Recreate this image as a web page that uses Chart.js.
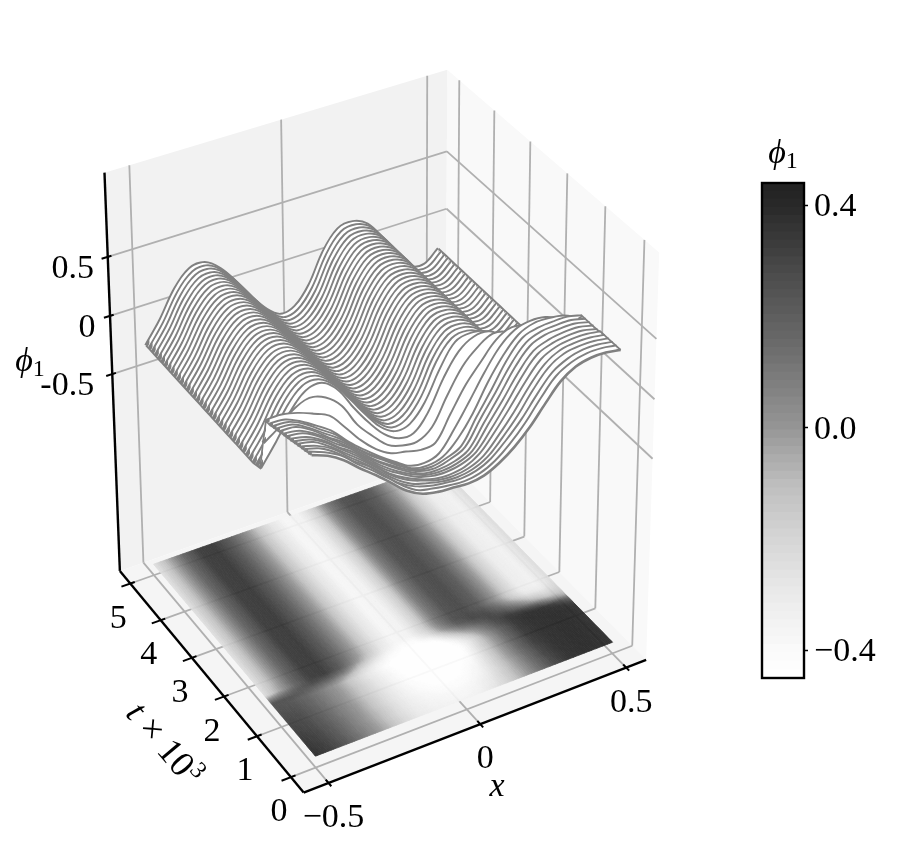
<!DOCTYPE html>
<html><head><meta charset="utf-8">
<style>html,body{margin:0;padding:0;background:#fff;width:900px;height:861px;overflow:hidden}
canvas{position:absolute;display:block}</style>
<script src="https://cdn.jsdelivr.net/npm/chart.js@4"></script></head>
<body><canvas id="main" width="900" height="861" style="left:0;top:0"></canvas>
<canvas id="bar" width="160" height="580" style="left:740px;top:130px"></canvas>
<script>
// ---------- data ----------
const xValues=[-.5,-.45,-.4,-.35,-.3,-.25,-.2,-.15,-.1,-.05,0,.05,.1,.15,.2,.25,.3,.35,.4,.45,.5];
const tValues=[0,.1,.2,.3,.4,.5,.6,.7,.8,.9,1,1.1,1.2,1.3,1.4,1.5,1.6,1.7,1.8,1.9,2,2.1,2.2,2.3,2.4,2.5,2.6,2.7,2.8,2.9,3,3.1,3.2,3.3,3.4,3.5,3.6,3.7,3.8,3.9,4,4.1,4.2,4.3,4.4,4.5,4.6,4.7,4.8,4.9,5];
const phiEarlyRows=[
[.37,.32,.24,.13,.03,-.08,-.19,-.26,-.29,-.30,-.31,-.29,-.23,-.14,-.02,.13,.27,.35,.38,.38,.36],
[.36,.31,.24,.13,.03,-.08,-.19,-.27,-.30,-.32,-.33,-.31,-.25,-.15,-.02,.14,.28,.35,.38,.38,.36],
[.35,.31,.23,.12,.03,-.09,-.20,-.27,-.31,-.33,-.34,-.32,-.26,-.15,-.02,.14,.28,.35,.38,.38,.36],
[.34,.30,.23,.12,.02,-.09,-.20,-.28,-.32,-.35,-.36,-.34,-.28,-.16,-.02,.15,.29,.36,.38,.38,.36],
[.33,.30,.22,.12,.02,-.09,-.20,-.28,-.33,-.37,-.38,-.36,-.30,-.17,-.02,.15,.29,.36,.38,.38,.36],
[.32,.29,.22,.12,.02,-.10,-.21,-.29,-.35,-.39,-.40,-.38,-.31,-.17,-.01,.16,.30,.36,.38,.38,.36],
[.31,.28,.21,.11,.02,-.10,-.21,-.29,-.36,-.40,-.41,-.39,-.33,-.18,-.01,.17,.31,.36,.38,.38,.35],
[.30,.28,.21,.11,.02,-.10,-.21,-.30,-.37,-.42,-.43,-.41,-.35,-.18,-.01,.17,.31,.36,.38,.38,.35],
[.29,.27,.20,.11,.01,-.11,-.21,-.30,-.38,-.44,-.45,-.43,-.37,-.19,-.01,.18,.32,.37,.38,.38,.35],
[.28,.27,.20,.10,.01,-.11,-.22,-.31,-.39,-.45,-.47,-.44,-.38,-.19,-.01,.18,.32,.37,.38,.38,.35],
[.27,.26,.19,.10,.01,-.11,-.22,-.31,-.40,-.47,-.49,-.46,-.40,-.20,-.01,.19,.33,.37,.38,.38,.35],
[.26,.25,.19,.10,.01,-.12,-.23,-.32,-.41,-.49,-.51,-.48,-.37,-.20,.02,.20,.33,.38,.38,.36,.30],
[.25,.24,.18,.10,.01,-.12,-.23,-.33,-.42,-.50,-.52,-.48,-.32,-.13,.07,.24,.34,.37,.36,.30,.18],
[.25,.25,.22,.17,.11,-.03,-.18,-.30,-.38,-.41,-.44,-.42,-.22,-.02,.13,.27,.33,.30,.22,.05,-.05],
[.04,.13,.22,.27,.23,.12,-.08,-.22,-.34,-.39,-.40,-.32,-.10,.10,.22,.29,.26,.14,-.02,-.12,-.12],
[-.20,-.02,.17,.30,.32,.22,.03,-.14,-.28,-.36,-.36,-.22,.02,.20,.28,.28,.18,.02,-.14,-.20,-.16],
[-.21,-.03,.18,.31,.32,.23,.07,-.10,-.25,-.33,-.31,-.17,.07,.25,.28,.25,.11,-.09,-.24,-.27,-.18]];
const phiLate=[-.22,-.04,.18,.31,.32,.23,.08,-.09,-.24,-.33,-.30,-.15,.10,.25,.27,.21,.05,-.14,-.28,-.30,-.20];
const zTicks=[-.5,0,.5], xTicks=[-.5,0,.5], tTicks=[0,1,2,3,4,5];
const xTickText=['\u22120.5','0','0.5'], tTickText=['0','1','2','3','4','5'], zTickText=['-0.5','0','0.5'];
const colorbarTicks=[-.4,0,.4];
const colorbarStops=[[-.45,255],[-.4,250],[-.3,234],[-.2,213],[-.11,192],[-.04,165],[0,149],[.15,106],[.28,74],[.4,40],[.44,34]];
// ---------- axes box and camera ----------
const xRange=[-.58,.57], tRange=[-.37,5.35], zRange=[-2.25,1.2], heatZ=-2.15;
const cameraAnchors=[[0,0,0,303,792],[1,0,0,646,660],[0,1,0,120,572],[1,1,0,446,456],[0,1,1,105,172],[1,1,1,446,70],[1,0,1,660,253]];
function solve(A,b){const n=b.length;for(let i=0;i<n;i++){let p=i;for(let r=i+1;r<n;r++)if(Math.abs(A[r][i])>Math.abs(A[p][i]))p=r;[A[i],A[p]]=[A[p],A[i]];[b[i],b[p]]=[b[p],b[i]];for(let r=i+1;r<n;r++){const f=A[r][i]/A[i][i];for(let c=i;c<n;c++)A[r][c]-=f*A[i][c];b[r]-=f*b[i];}}const s=Array(n).fill(0);for(let i=n-1;i>=0;i--){let v=b[i];for(let c=i+1;c<n;c++)v-=A[i][c]*s[c];s[i]=v/A[i][i];}return s;}
const cam=(()=>{const R=[],Y=[];for(const [u,v,w,px,py] of cameraAnchors){const X=px/1000,Yp=py/1000;R.push([u,v,w,1,0,0,0,0,-X*u,-X*v,-X*w]);Y.push(X);R.push([0,0,0,0,u,v,w,1,-Yp*u,-Yp*v,-Yp*w]);Y.push(Yp);}
const N=Array.from({length:11},()=>Array(11).fill(0)),B=Array(11).fill(0);R.forEach((r,k)=>{for(let i=0;i<11;i++){B[i]+=r[i]*Y[k];for(let j=0;j<11;j++)N[i][j]+=r[i]*r[j];}});for(let i=0;i<11;i++)N[i][i]+=1e-9;return solve(N,B);})();
function project(x,t,z){const u=(x-xRange[0])/(xRange[1]-xRange[0]),v=(t-tRange[0])/(tRange[1]-tRange[0]),w=(z-zRange[0])/(zRange[1]-zRange[0]);const d=cam[8]*u+cam[9]*v+cam[10]*w+1;return {x:1000*(cam[0]*u+cam[1]*v+cam[2]*w+cam[3])/d,y:1000*(cam[4]*u+cam[5]*v+cam[6]*w+cam[7])/d};}
const phiAt=k=>k<phiEarlyRows.length?phiEarlyRows[k]:phiLate;
function greyOf(v){const s=colorbarStops;if(v<=s[0][0])return s[0][1];for(let i=1;i<s.length;i++)if(v<=s[i][0]){const f=(v-s[i-1][0])/(s[i][0]-s[i-1][0]);return s[i-1][1]+f*(s[i][1]-s[i-1][1]);}return s[s.length-1][1];}
const lineColor='#808080', gridColor='#b0b0b0';
const datasets=[];
const base={pointRadius:0,pointHoverRadius:0,fill:false};
// surface rows (index 0 = front); each fills to the row behind it in white
tValues.forEach((t,k)=>{const phi=phiAt(k);datasets.push({...base,label:'t='+t,data:xValues.map((x,i)=>project(x,t,phi[i])),borderColor:lineColor,borderWidth:k===0?2.6:3.9,tension:.35,backgroundColor:'#fff',fill:k<tValues.length-1?'+1':false,order:10+10*k});});
const nRows=tValues.length, backTop=16;
// surface side edges
datasets.push({...base,label:'edge left',data:tValues.map((t,k)=>project(xValues[0],t,phiAt(k)[0])),borderColor:lineColor,borderWidth:1.8,order:1});
datasets.push({...base,label:'edge right back',data:tValues.slice(backTop).map((t,k)=>project(xValues[20],t,phiAt(k+backTop)[20])),borderColor:lineColor,borderWidth:1.8,order:15+10*backTop});
datasets.push({...base,label:'edge right front',data:tValues.slice(0,12).map((t,k)=>project(xValues[20],t,phiAt(k)[20])),borderColor:lineColor,borderWidth:1.8,order:1});
// grid
function seg(a,b,color,w,order){datasets.push({...base,data:[a,b],borderColor:color,borderWidth:w,order});}
const G=9000;
xTicks.forEach(x=>{seg(project(x,tRange[0],zRange[0]),project(x,tRange[1],zRange[0]),gridColor,1.8,G);seg(project(x,tRange[1],zRange[0]),project(x,tRange[1],zRange[1]),gridColor,1.8,G);});
tTicks.forEach(t=>{seg(project(xRange[0],t,zRange[0]),project(xRange[1],t,zRange[0]),gridColor,1.8,G);seg(project(xRange[1],t,zRange[0]),project(xRange[1],t,zRange[1]),gridColor,1.8,G);});
zTicks.forEach(z=>{seg(project(xRange[0],tRange[1],z),project(xRange[1],tRange[1],z),gridColor,1.8,G);seg(project(xRange[1],tRange[1],z),project(xRange[1],tRange[0],z),gridColor,1.8,G);});
// axes and ticks
const A=0;
seg(project(xRange[0],tRange[1],zRange[1]),project(xRange[0],tRange[1],zRange[0]),'#000',2.4,A);
seg(project(xRange[0],tRange[1],zRange[0]),project(xRange[0],tRange[0],zRange[0]),'#000',2.4,A);
seg(project(xRange[0],tRange[0],zRange[0]),project(xRange[1],tRange[0],zRange[0]),'#000',2.4,A);
xTicks.forEach(x=>seg(project(x,tRange[0]-.08,zRange[0]),project(x,tRange[0]+.08,zRange[0]),'#000',2,A));
tTicks.forEach(t=>seg(project(xRange[0]-.03,t,zRange[0]),project(xRange[0]+.015,t,zRange[0]),'#000',2,A));
zTicks.forEach(z=>seg(project(xRange[0]-.02,tRange[1],z),project(xRange[0]+.012,tRange[1],z),'#000',2,A));

function mathLabel(ctx,parts,x,y,align){ // parts: [text,italic,size,dy]
  ctx.textBaseline='alphabetic';let w=0;for(const p of parts){ctx.font=(p[1]?'italic ':'')+p[2]+'px "Liberation Serif","DejaVu Serif",serif';w+=ctx.measureText(p[0]).width;}
  let cx=align==='center'?x-w/2:x;for(const p of parts){ctx.font=(p[1]?'italic ':'')+p[2]+'px "Liberation Serif","DejaVu Serif",serif';ctx.textAlign='left';ctx.fillStyle='#000';ctx.fillText(p[0],cx,y+(p[3]||0));cx+=ctx.measureText(p[0]).width;}
}
const scenePlugin={id:'scene',
 beforeDatasetsDraw(chart){const c=chart.ctx,X=chart.scales.x,Y=chart.scales.y;
  const poly=(pts,col)=>{c.beginPath();pts.forEach((p,i)=>{const a=X.getPixelForValue(p.x),b=Y.getPixelForValue(p.y);i?c.lineTo(a,b):c.moveTo(a,b);});c.closePath();c.fillStyle=col;c.fill();};
  const [x0,x1]=xRange,[t0,t1]=tRange,[z0,z1]=zRange;
  poly([project(x0,t1,z0),project(x1,t1,z0),project(x1,t1,z1),project(x0,t1,z1)],'#f2f2f2');
  poly([project(x1,t0,z0),project(x1,t1,z0),project(x1,t1,z1),project(x1,t0,z1)],'#f9f9f9');
  poly([project(x0,t0,z0),project(x1,t0,z0),project(x1,t1,z0),project(x0,t1,z0)],'#f5f5f5');
 },
 beforeDatasetDraw(chart,args){if(args.index!==nRows-1)return;const c=chart.ctx,X=chart.scales.x,Y=chart.scales.y;
  const off=document.createElement('canvas');off.width=900;off.height=861;const o=off.getContext('2d');
  const sx=8,st=4;
  for(let k=0;k<nRows-1;k++){const a=phiAt(k),b=phiAt(k+1);for(let i=0;i<xValues.length-1;i++)for(let m=0;m<st;m++)for(let n=0;n<sx;n++){
    const f0=n/sx,f1=(n+1)/sx,g0=m/st,g1=(m+1)/st,fc=(f0+f1)/2,gc=(g0+g1)/2;
    const xa=xValues[i]+f0*(xValues[i+1]-xValues[i]),xb=xValues[i]+f1*(xValues[i+1]-xValues[i]),ta=tValues[k]+g0*(tValues[k+1]-tValues[k]),tb=tValues[k]+g1*(tValues[k+1]-tValues[k]);
    const v=(1-gc)*((1-fc)*a[i]+fc*a[i+1])+gc*((1-fc)*b[i]+fc*b[i+1]);const g=Math.round(greyOf(v*1.15));const col='rgb('+g+','+g+','+g+')';
    const P=[project(xa,ta,heatZ),project(xb,ta,heatZ),project(xb,tb,heatZ),project(xa,tb,heatZ)];
    o.beginPath();P.forEach((p,j)=>{const A=X.getPixelForValue(p.x),B=Y.getPixelForValue(p.y);j?o.lineTo(A,B):o.moveTo(A,B);});o.closePath();o.fillStyle=col;o.fill();o.strokeStyle=col;o.lineWidth=.8;o.stroke();
  }}
  c.save();c.globalAlpha=.93;c.drawImage(off,0,0);c.restore();
 },
 afterDatasetsDraw(chart){const c=chart.ctx,X=chart.scales.x,Y=chart.scales.y;
  const px=p=>({x:X.getPixelForValue(p.x),y:Y.getPixelForValue(p.y)});
  xTicks.forEach((x,i)=>{const p=px(project(x,tRange[0],zRange[0]));mathLabel(c,[[xTickText[i],false,34]],p.x+5,p.y+44,'center');});
  tTicks.forEach((t,i)=>{const p=px(project(xRange[0],t,zRange[0]));mathLabel(c,[[tTickText[i],false,34]],p.x-12,p.y+44,'center');});
  zTicks.forEach((z,i)=>{const p=px(project(xRange[0],tRange[1],z));mathLabel(c,[[zTickText[i],false,34]],p.x+({'-0.5':-45,'0':-23,'0.5':-35})[zTickText[i]],p.y+21,'center');});
  mathLabel(c,[['x',true,34]],497,796,'center');
  mathLabel(c,[['\u03D5',true,34],['1',false,24,5]],30,371,'center');
  c.save();c.translate(164,744);c.rotate(50*Math.PI/180);mathLabel(c,[['t',true,36],[' \u00D7 10',false,36],['3',false,24,-13]],0,11,'center');c.restore();
 }};
new Chart(document.getElementById('main'),{type:'line',data:{datasets},plugins:[scenePlugin],
 options:{responsive:false,animation:false,parsing:false,normalized:false,events:[],layout:{padding:0},
  plugins:{legend:{display:false},tooltip:{enabled:false},title:{display:false}},
  elements:{line:{capBezierPoints:false}},
  scales:{x:{type:'linear',min:0,max:900,display:false},y:{type:'linear',min:0,max:861,reverse:true,display:false}}}});
// colour bar
const strips=[];for(let i=0;i<60;i++){const lo=-.45+i*.89/60,hi=lo+.89/60;const g=Math.round(greyOf((lo+hi)/2));strips.push({data:[[lo,hi+.001]],backgroundColor:'rgb('+g+','+g+','+g+')',borderWidth:0,barPercentage:1,categoryPercentage:1});}
new Chart(document.getElementById('bar'),{type:'bar',data:{labels:['phi'],datasets:strips},
 plugins:[{id:'frame',afterDraw(ch){const c=ch.ctx,a=ch.chartArea;c.save();c.strokeStyle='#000';c.lineWidth=2.4;c.strokeRect(a.left,a.top,a.right-a.left,a.bottom-a.top);mathLabel(c,[['\u03D5',true,34],['1',false,24,5]],43,33,'center');c.restore();}}],
 options:{responsive:false,animation:false,events:[],layout:{padding:{left:22,top:53,bottom:32,right:0}},
  plugins:{legend:{display:false},tooltip:{enabled:false}},
  scales:{x:{display:false,stacked:true},
   y:{position:'right',min:-.45,max:.44,afterFit(s){s.width=96;},afterBuildTicks(s){s.ticks=colorbarTicks.map(v=>({value:v}));},
    grid:{drawOnChartArea:false,drawTicks:true,tickLength:4,tickColor:'#000',tickWidth:1.5},border:{display:false},
    ticks:{autoSkip:false,padding:6,labelOffset:2,color:'#000',font:{family:'"Liberation Serif",serif',size:34},callback:v=>(v<0?'\u2212':'')+Math.abs(v).toFixed(1)}}}}});
</script></body></html>
